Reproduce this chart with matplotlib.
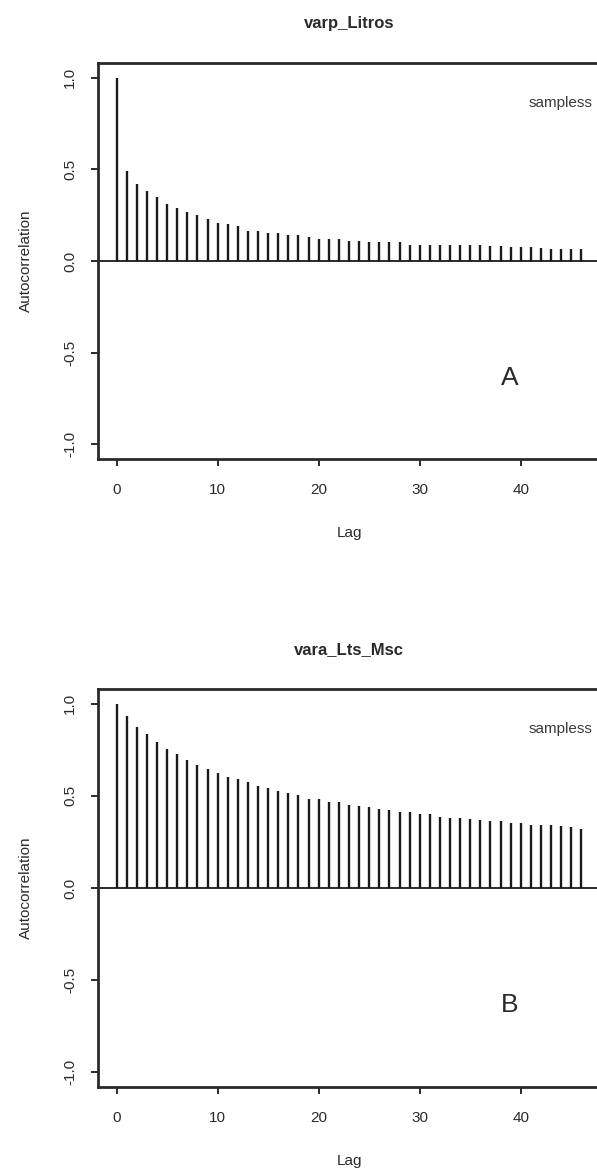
import matplotlib
matplotlib.use("Agg")
import matplotlib.pyplot as plt

plt.rcParams['font.family'] = ['Liberation Sans', 'DejaVu Sans']

lags = list(range(47))

acf_litros = [1.0, 0.49, 0.42, 0.38, 0.35, 0.31, 0.29, 0.27, 0.25, 0.23,
              0.21, 0.20, 0.19, 0.165, 0.165, 0.155, 0.155, 0.14, 0.14, 0.13,
              0.12, 0.12, 0.12, 0.11, 0.11, 0.105, 0.105, 0.105, 0.105, 0.085,
              0.085, 0.085, 0.085, 0.085, 0.085, 0.085, 0.085, 0.08, 0.08, 0.075,
              0.075, 0.075, 0.07, 0.065, 0.065, 0.065, 0.065]

acf_lts_msc = [1.0, 0.934, 0.872, 0.835, 0.79, 0.753, 0.729, 0.696, 0.67, 0.647,
               0.623, 0.60, 0.59, 0.573, 0.553, 0.542, 0.527, 0.518, 0.504, 0.482,
               0.482, 0.469, 0.469, 0.45, 0.447, 0.438, 0.43, 0.421, 0.414, 0.41,
               0.403, 0.40, 0.386, 0.381, 0.381, 0.377, 0.368, 0.366, 0.363, 0.353,
               0.353, 0.344, 0.34, 0.34, 0.335, 0.33, 0.32]

titles = ['varp_Litros', 'vara_Lts_Msc']
panel_labels = ['A', 'B']
xticks = [0, 10, 20, 30, 40]
yticks = [-1.0, -0.5, 0.0, 0.5, 1.0]
ytick_labels = ['-1.0', '-0.5', '0.0', '0.5', '1.0']

fig = plt.figure(figsize=(5.97, 11.74), dpi=100)
W, H = 597, 1174

# panel boxes in pixels: (top, bottom)
boxes = [(63, 459), (689, 1087)]
series = [acf_litros, acf_lts_msc]
ink = '#2a2a2a'

for (top, bot), vals, title, lab in zip(boxes, series, titles, panel_labels):
    ax = fig.add_axes([98 / W, 1 - bot / H, 502 / W, (bot - top) / H])
    ax.vlines(lags, 0, vals, color='#1a1a1a', linewidth=1.7)
    ax.axhline(0, color='#1a1a1a', linewidth=1.3)
    ax.set_xlim(-1.84, 47.84)
    ax.set_ylim(-1.08, 1.08)
    ax.set_xticks(xticks)
    ax.set_yticks(yticks)
    ax.set_yticklabels(ytick_labels, rotation=90, va='center')
    ax.tick_params(direction='out', length=5, width=1.4, colors=ink,
                   labelsize=11, pad=12)
    ax.tick_params(axis='y', pad=10)
    for s in ax.spines.values():
        s.set_linewidth(2.0)
        s.set_color(ink)
    ax.set_title(title, fontsize=12, fontweight='bold', color=ink, pad=25)
    ax.set_xlabel('Lag', fontsize=11, color=ink, labelpad=21)
    ax.set_ylabel('Autocorrelation', fontsize=11, color=ink, labelpad=22)
    ax.text(0.985, 0.9, 'sampless', transform=ax.transAxes, ha='right',
            va='center', fontsize=11, color='#3a3a3a')
    ax.text(0.82, 0.205, lab, transform=ax.transAxes, ha='center',
            va='center', fontsize=19, color=ink)

fig.savefig('out.png', dpi=100)
